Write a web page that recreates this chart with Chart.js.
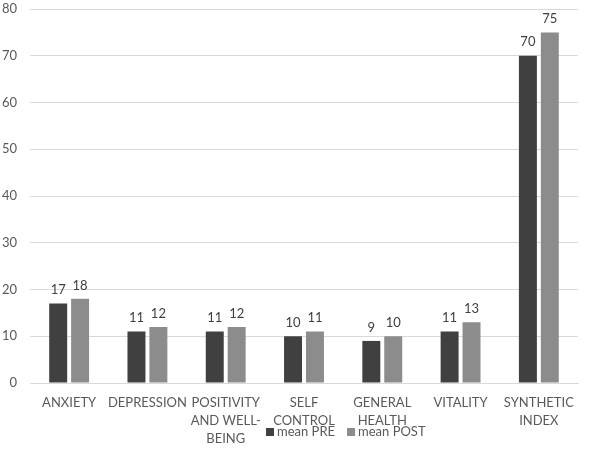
<!DOCTYPE html>
<html>
<head>
<meta charset="utf-8">
<script src="https://cdn.jsdelivr.net/npm/chart.js@4/dist/chart.umd.min.js"></script>
<style>
html,body{margin:0;padding:0;background:#fff;}
canvas{display:block;}
</style>
</head>
<body>
<canvas id="c" width="590" height="450"></canvas>
<script>
const categories = [
  ['ANXIETY'],
  ['DEPRESSION'],
  ['POSITIVITY','AND WELL-','BEING'],
  ['SELF','CONTROL'],
  ['GENERAL','HEALTH'],
  ['VITALITY'],
  ['SYNTHETIC','INDEX']
];
const meanPre  = [17, 11, 11, 10, 9, 11, 70];
const meanPost = [18, 12, 12, 11, 10, 13, 75];
const seriesNames = ['mean PRE', 'mean POST'];
const yTicks = {min: 0, max: 80, step: 10};

const FONT = 'Lato, "Open Sans", sans-serif';
const TEXT = '#595959';

const valueLabels = {
  id: 'valueLabels',
  afterDatasetsDraw(chart) {
    const ctx = chart.ctx;
    ctx.save();
    ctx.font = '13px ' + FONT;
    ctx.fillStyle = '#404040';
    ctx.textAlign = 'center';
    ctx.textBaseline = 'bottom';
    chart.data.datasets.forEach((ds, i) => {
      chart.getDatasetMeta(i).data.forEach((bar, j) => {
        const p = bar.getProps(['x','y'], true);
        ctx.fillText(String(ds.data[j]), p.x, p.y - 7);
      });
    });
    ctx.restore();
  }
};

const customLegend = {
  id: 'customLegend',
  afterDraw(chart) {
    const ctx = chart.ctx;
    ctx.save();
    ctx.font = '13px ' + FONT;
    ctx.textBaseline = 'middle';
    ctx.textAlign = 'left';
    let x = 266;
    const y = 432;
    chart.data.datasets.forEach((ds) => {
      ctx.fillStyle = ds.backgroundColor;
      ctx.fillRect(x, y - 4, 8, 8);
      ctx.fillStyle = TEXT;
      ctx.fillText(ds.label, x + 11, y);
      x += 11 + ctx.measureText(ds.label).width + 12;
    });
    ctx.restore();
  }
};

new Chart(document.getElementById('c'), {
  type: 'bar',
  data: {
    labels: categories,
    datasets: [
      {label: seriesNames[0], data: meanPre, backgroundColor: '#404040'},
      {label: seriesNames[1], data: meanPost, backgroundColor: '#8c8c8c'}
    ]
  },
  options: {
    responsive: false,
    animation: false,
    devicePixelRatio: 1,
    layout: {padding: {top: 9, right: 12, left: 0, bottom: 0}},
    datasets: {bar: {categoryPercentage: 0.56, barPercentage: 0.82}},
    plugins: {legend: {display: false}, tooltip: {enabled: false}},
    scales: {
      x: {
        grid: {display: false, drawTicks: false},
        border: {color: '#d9d9d9', width: 1},
        ticks: {
          color: TEXT, font: {family: FONT, size: 13, lineHeight: 1.38},
          padding: 11, maxRotation: 0, minRotation: 0, autoSkip: false
        },
        afterFit(s) { s.height = 67; s.paddingTop = 0; s.paddingBottom = 0; }
      },
      y: {
        min: yTicks.min, max: yTicks.max,
        grid: {color: '#d9d9d9', drawTicks: false},
        border: {display: false},
        ticks: {stepSize: yTicks.step, color: TEXT, font: {family: FONT, size: 13}, padding: 13},
        afterFit(s) { s.width = 30; s.paddingTop = 0; s.paddingBottom = 0; }
      }
    }
  },
  plugins: [valueLabels, customLegend]
});
</script>
</body>
</html>
